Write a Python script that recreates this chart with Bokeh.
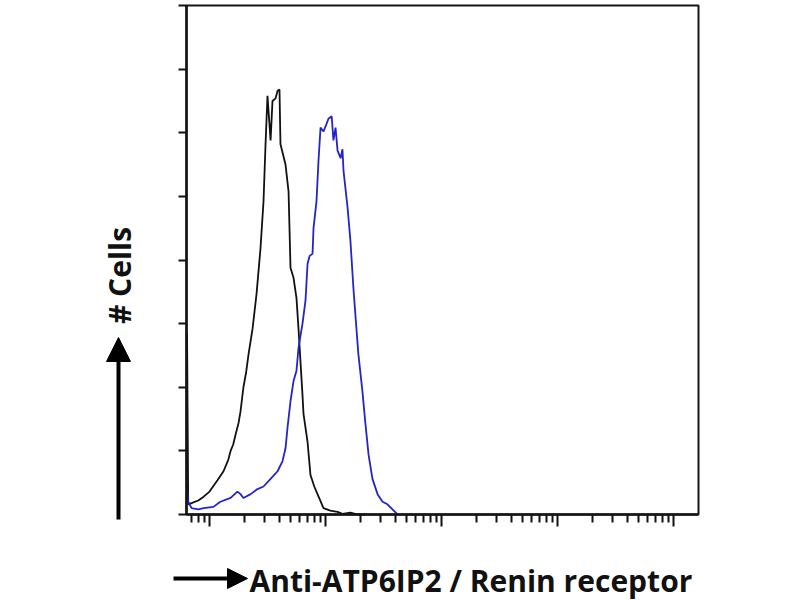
import math
from bokeh.plotting import figure
from bokeh.models import (Range1d, FixedTicker, Label, Arrow, NormalHead,
                          CustomJSTickFormatter, BoxAnnotation)
from bokeh.embed import file_html
from bokeh.resources import INLINE

# ---- data ----
control_intensity = [0.64, 0.655, 0.70, 0.80, 0.89, 1.0, 1.17, 1.32, 1.45, 1.52, 1.60, 1.68,
                     1.78, 1.85, 1.96, 2.07, 2.17, 2.35, 2.54, 2.75, 2.92, 3.04, 3.16, 3.36,
                     3.49, 3.71, 3.86, 4.01, 4.09, 4.52, 4.80, 4.99, 5.30, 5.62, 5.85, 6.33,
                     6.46, 7.0, 7.42, 8.0, 8.53, 9.61, 11.0, 12.7, 14.0, 16.4, 19.0, 22.0]
control_count = [142, 8, 9, 11, 14, 18, 27, 34, 43, 50, 55, 63,
                 72, 81, 100, 112, 126, 146, 173, 209, 246, 291, 329, 294,
                 325, 327, 333, 334, 291, 275, 254, 194, 186, 170, 146, 94,
                 79, 57, 31, 22, 16, 5, 3, 2, 0.5, 1.5, 0, 0]

stained_intensity = [0.64, 0.655, 0.70, 0.80, 0.89, 1.08, 1.24, 1.52, 1.74, 1.85, 1.96, 2.26,
                     2.59, 2.92, 3.36, 3.86, 4.26, 4.52, 4.70, 4.99, 5.30, 5.62, 5.85, 6.33,
                     6.72, 7.0, 7.28, 7.73, 7.88, 8.36, 8.70, 9.06, 9.61, 10.2, 10.6, 11.3,
                     11.7, 12.2, 12.7, 13.5, 14.0, 14.3, 15.5, 16.4, 17.4, 18.2, 19.2, 20.8,
                     22.1, 23.5, 25.4, 28.1, 31.0, 34.2, 37.8, 41.8]
stained_count = [20, 10, 5, 4, 5, 6, 10, 13, 18, 16, 13, 16,
                 20, 22, 28, 34, 42, 52, 68, 89, 105, 113, 131, 150,
                 168, 197, 203, 205, 225, 246, 278, 304, 301, 307, 311, 313,
                 294, 304, 286, 280, 287, 270, 241, 215, 178, 154, 126, 97,
                 71, 47, 28, 16, 10, 8, 4, 0]

y_ticks = [0, 50, 100, 150, 200, 250, 300, 350, 400]
x_major_ticks = [1, 10, 100, 1000, 10000]
x_minor_ticks = [0.7, 0.8, 0.9,
                 2, 3, 4, 5, 6, 7, 8, 9,
                 20, 30, 40, 50, 60, 70, 80, 90,
                 200, 300, 400, 500, 600, 700, 800, 900,
                 2000, 3000, 4000, 5000, 6000, 7000, 8000, 9000]

x_title = "Anti-ATP6IP2 / Renin receptor"
y_title = "# Cells"

# ---- layout: the frame fills the canvas, the plot box sits inside it ----
W, H = 800, 600
BL, BR, BT, BB = 186, 698, 5, 514          # plot box edges (px)
X0, X1 = 0.633, 16440.0                    # data limits of the plot box
Y0, Y1 = 0.0, 400.0

lx0, lx1 = math.log10(X0), math.log10(X1)
sx = (lx1 - lx0) / (BR - BL)               # log10 units per px
sy = (Y1 - Y0) / (BB - BT)                 # counts per px

def px_to_x(px):
    return 10 ** (lx0 + (px - BL) * sx)

def py_to_y(py):
    return Y0 + (BB - py) * sy

p = figure(width=W, height=H, x_axis_type="log",
           x_range=Range1d(px_to_x(0), px_to_x(W)),
           y_range=Range1d(py_to_y(H), py_to_y(0)),
           output_backend="svg", toolbar_location=None,
           min_border=0, min_border_left=0, min_border_right=0,
           min_border_top=0, min_border_bottom=0)
p.grid.visible = False
p.background_fill_color = "white"
p.border_fill_color = "white"
p.outline_line_color = None

p.add_layout(BoxAnnotation(left=X0, right=X1, bottom=Y0, top=Y1,
                           fill_alpha=0, line_color="#151515", line_alpha=1,
                           line_width=2))

p.xaxis.fixed_location = Y0
p.yaxis.fixed_location = X0
p.xaxis.bounds = (X0, X1)
p.yaxis.bounds = (Y0, Y1)
p.xaxis.ticker = FixedTicker(ticks=x_major_ticks, minor_ticks=x_minor_ticks)
p.yaxis.ticker = FixedTicker(ticks=y_ticks, minor_ticks=[])
for ax in (p.xaxis, p.yaxis):
    ax.formatter = CustomJSTickFormatter(code="return ''")
    ax.axis_line_color = "#111111"
    ax.axis_line_width = 2.5
    ax.major_tick_line_color = "#111111"
    ax.major_tick_line_width = 2
    ax.minor_tick_line_color = "#111111"
    ax.minor_tick_line_width = 2
    ax.major_tick_in = 0
    ax.minor_tick_in = 0
p.xaxis.major_tick_out = 12
p.xaxis.minor_tick_out = 8
p.yaxis.major_tick_out = 8
p.yaxis.minor_tick_out = 0

p.line(control_intensity, control_count, line_color="#111111", line_width=1.8)
p.line(stained_intensity, stained_count, line_color="#2424c8", line_width=1.8)

# vertical arrow + "# Cells"
p.add_layout(Arrow(end=NormalHead(size=24, fill_color="black", line_color="black"),
                   x_start=px_to_x(118), y_start=py_to_y(519),
                   x_end=px_to_x(118), y_end=py_to_y(337),
                   line_width=4, line_color="black"))
p.add_layout(Label(x=px_to_x(119), y=py_to_y(275), text=y_title, angle=math.pi / 2,
                   text_align="center", text_baseline="middle",
                   text_font="Open Sans", text_font_style="bold",
                   text_font_size="30px", text_color="#111111"))

# horizontal arrow + axis title
p.add_layout(Arrow(end=NormalHead(size=20, fill_color="black", line_color="black"),
                   x_start=px_to_x(173), y_start=py_to_y(578),
                   x_end=px_to_x(247), y_end=py_to_y(578),
                   line_width=4, line_color="black"))
p.add_layout(Label(x=px_to_x(249), y=py_to_y(580), text=x_title,
                   text_align="left", text_baseline="middle",
                   text_font="Open Sans", text_font_style="bold",
                   text_font_size="30px", text_color="#111111"))

open("out.html", "w").write(file_html(p, INLINE))
